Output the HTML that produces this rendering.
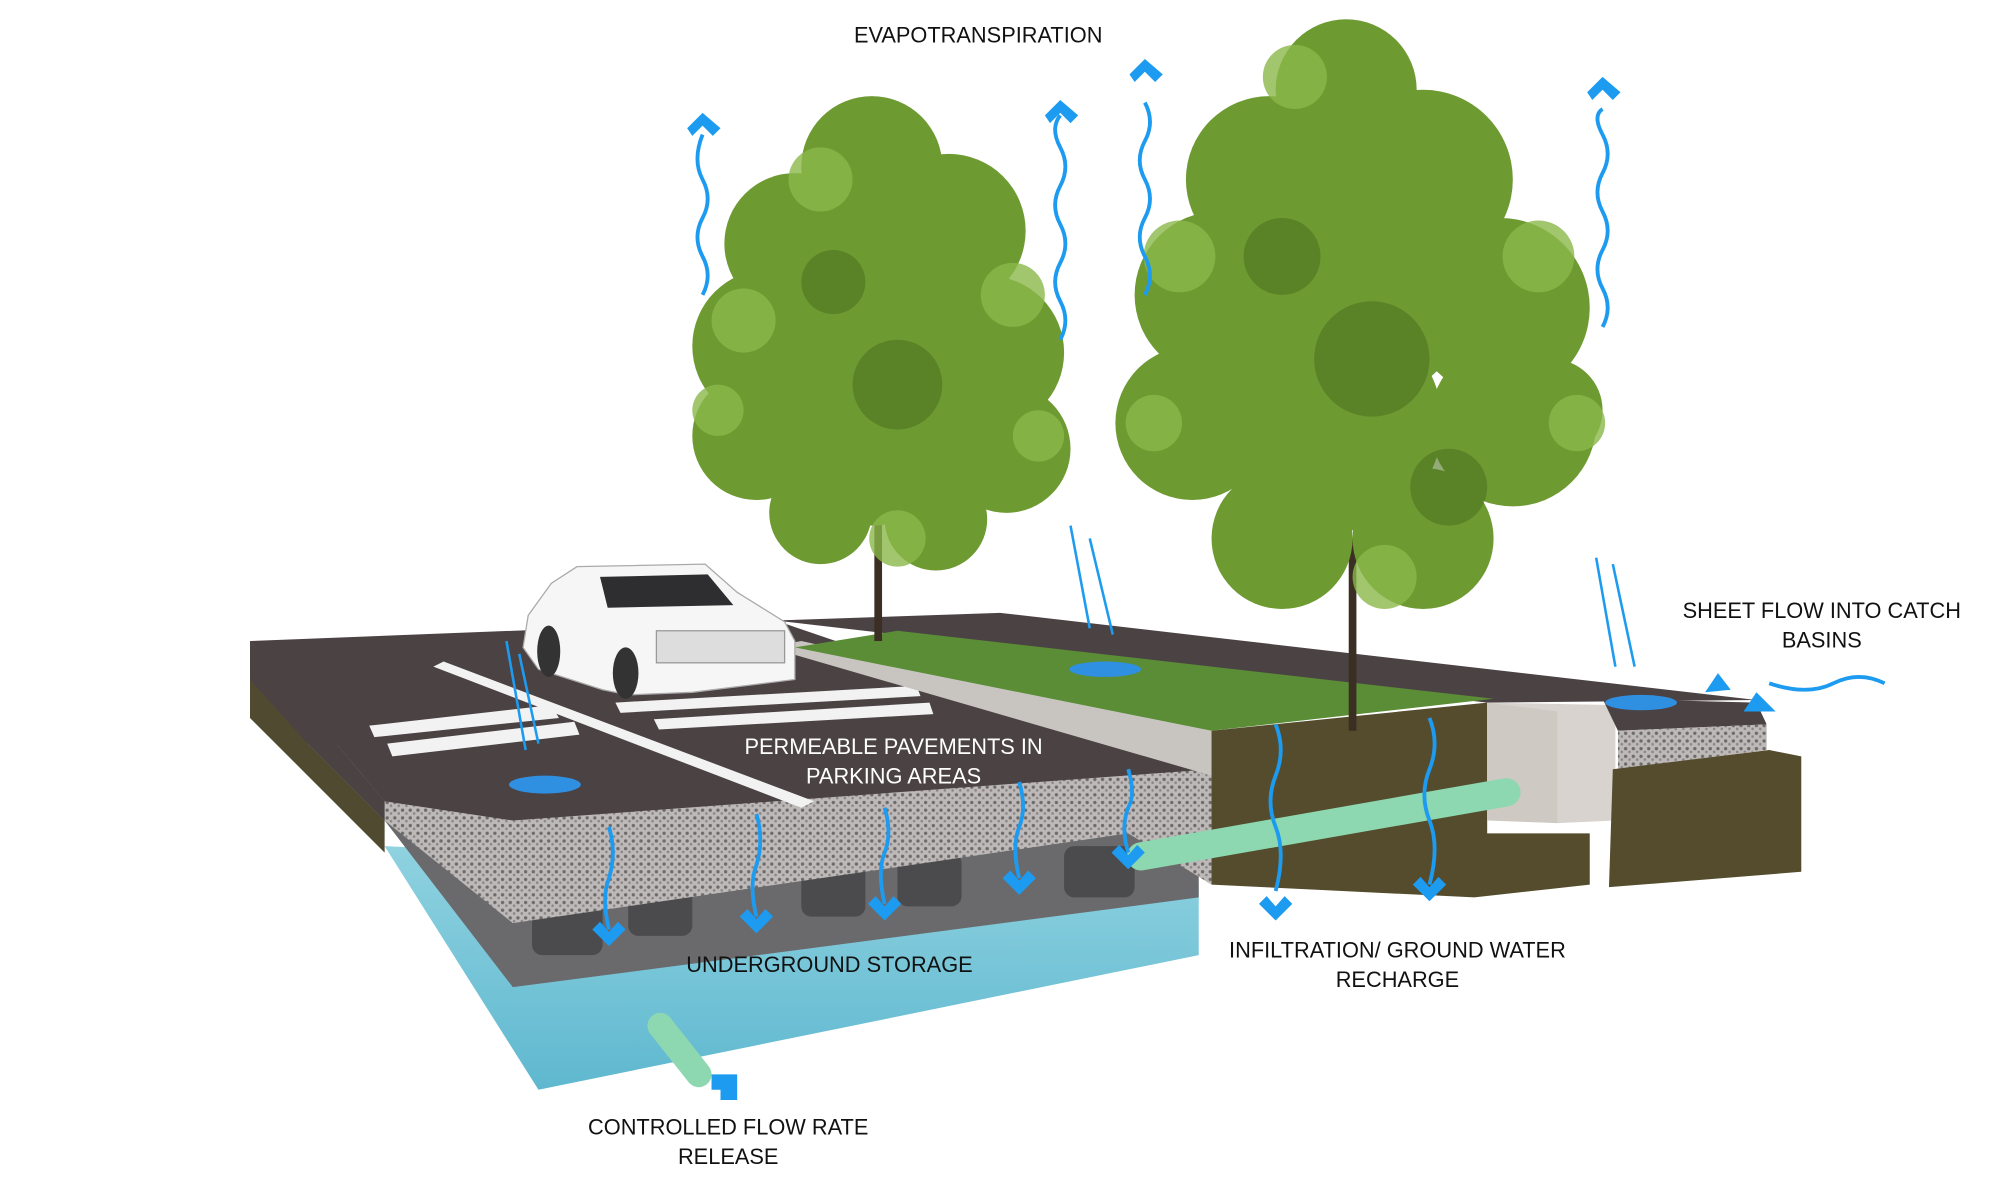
<!DOCTYPE html>
<html><head><meta charset="utf-8"><style>
html,body{margin:0;padding:0;background:#fff;width:2000px;height:1200px;overflow:hidden}
svg{display:block}
text{font-family:"Liberation Sans",sans-serif;font-size:17px}
</style></head><body>
<svg width="2000" height="1200" viewBox="0 0 1560 936" preserveAspectRatio="none" xmlns="http://www.w3.org/2000/svg">
<defs>
<pattern id="grav" width="6" height="6" patternUnits="userSpaceOnUse"><rect width="6" height="6" fill="#bdb9b8"/><circle cx="2" cy="2" r="1.3" fill="#6f6a6a"/><circle cx="5" cy="4.5" r="1" fill="#8c8484"/></pattern>
<linearGradient id="wat" x1="0" y1="0" x2="0" y2="1"><stop offset="0" stop-color="#8fd2e0"/><stop offset="1" stop-color="#5fb8cf"/></linearGradient>
</defs>
<polygon points="195,500 300,620 300,665 195,560" fill="#4f4a30"/>
<polygon points="300,660 420,850 935,745 935,690" fill="url(#wat)"/>
<polygon points="300,640 400,770 935,700 935,660 880,650 300,640" fill="#6a6a6c"/>
<g fill="#4b4b4d">
<rect x="415" y="695" width="55" height="50" rx="8"/><rect x="490" y="685" width="50" height="45" rx="8"/><rect x="625" y="670" width="50" height="45" rx="8"/><rect x="700" y="665" width="50" height="42" rx="8"/><rect x="830" y="660" width="55" height="40" rx="8"/>
</g>
<polygon points="240,580 945,600 945,690 880,650 400,720 300,640" fill="url(#grav)"/>
<polygon points="195,500 605,484 945,600 400,640 300,625" fill="#4b4244"/>
<polygon points="195,500 300,625 300,640 240,580 195,530" fill="#4b4244"/>
<g fill="#f2f2f2">
<polygon points="288,566 430,550 436,560 292,575"/><polygon points="302,580 448,563 452,573 306,590"/>
<polygon points="480,548 715,535 718,543 484,556"/><polygon points="510,561 725,548 728,557 514,569"/>
<polygon points="338,520 346,516 635,625 625,630"/>
</g>
<polygon points="605,484 780,478 1370,546 1160,548" fill="#4b4244"/>
<polygon points="600,505 625,500 945,570 945,605" fill="#c8c4c0"/>
<polygon points="620,505 700,492 1165,545 945,570" fill="#5a8d36"/>
<polygon points="945,570 1160,548 1160,650 1240,650 1240,690 1150,700 945,690" fill="#544c2d"/>
<polygon points="1160,548 1260,550 1260,640 1215,642 1215,555 1160,555" fill="#d8d3ce"/>
<polygon points="1160,548 1215,555 1215,642 1160,640" fill="#cfc9c3"/>
<polygon points="1250,545 1370,548 1378,565 1262,570" fill="#4b4244"/>
<polygon points="1262,570 1378,565 1378,585 1262,600" fill="url(#grav)"/>
<polygon points="1258,600 1380,585 1405,590 1405,680 1255,692" fill="#544c2d"/>
<line x1="890" y1="668" x2="1175" y2="618" stroke="#8dd8b0" stroke-width="22" stroke-linecap="round"/>
<line x1="515" y1="800" x2="545" y2="838" stroke="#8dd8b0" stroke-width="20" stroke-linecap="round"/>
<!-- trees -->
<rect x="682" y="400" width="6" height="100" fill="#3b2e22"/>
<rect x="1052" y="420" width="6" height="150" fill="#3b2e22"/>
<g fill="#6e9a32">
<circle cx="680" cy="130" r="55"/><circle cx="620" cy="190" r="55"/><circle cx="740" cy="180" r="60"/>
<circle cx="600" cy="270" r="60"/><circle cx="685" cy="250" r="75"/><circle cx="770" cy="275" r="60"/>
<circle cx="590" cy="340" r="50"/><circle cx="680" cy="340" r="70"/><circle cx="785" cy="350" r="50"/>
<circle cx="640" cy="400" r="40"/><circle cx="730" cy="405" r="40"/>
<circle cx="1050" cy="70" r="55"/><circle cx="990" cy="140" r="65"/><circle cx="1110" cy="140" r="70"/>
<circle cx="950" cy="230" r="65"/><circle cx="1060" cy="230" r="85"/><circle cx="1170" cy="240" r="70"/>
<circle cx="930" cy="330" r="60"/><circle cx="1040" cy="330" r="85"/><circle cx="1180" cy="330" r="65"/>
<circle cx="1000" cy="420" r="55"/><circle cx="1110" cy="420" r="55"/><circle cx="1210" cy="320" r="40"/>
</g>
<g fill="#8bb84a" opacity="0.8">
<circle cx="640" cy="140" r="25"/><circle cx="580" cy="250" r="25"/><circle cx="790" cy="230" r="25"/><circle cx="560" cy="320" r="20"/><circle cx="810" cy="340" r="20"/><circle cx="700" cy="420" r="22"/>
<circle cx="1010" cy="60" r="25"/><circle cx="920" cy="200" r="28"/><circle cx="1200" cy="200" r="28"/><circle cx="900" cy="330" r="22"/><circle cx="1230" cy="330" r="22"/><circle cx="1080" cy="450" r="25"/>
</g>
<g fill="#4d7420" opacity="0.6">
<circle cx="700" cy="300" r="35"/><circle cx="650" cy="220" r="25"/><circle cx="1070" cy="280" r="45"/><circle cx="1000" cy="200" r="30"/><circle cx="1130" cy="380" r="30"/>
</g>
<!-- car -->
<path d="M408,505 L412,480 L430,455 L450,442 L550,440 L575,462 L612,485 L620,500 L620,530 L540,540 L490,542 L470,538 L420,522 Z" fill="#f6f6f6" stroke="#aaa"/>
<polygon points="468,450 552,448 572,472 474,474" fill="#2e2e30"/>
<rect x="512" y="492" width="100" height="25" fill="#ddd" stroke="#999"/>
<ellipse cx="428" cy="508" rx="9" ry="20" fill="#333"/><ellipse cx="488" cy="525" rx="10" ry="20" fill="#333"/>
<g fill="none" stroke="#1d9bf0" stroke-width="3">
<path d="M548,230 q8,-15 0,-30 q-8,-15 0,-30 q8,-15 0,-30 q-8,-15 0,-35"/>
<path d="M827,265 q8,-15 0,-30 q-8,-15 0,-30 q8,-15 0,-30 q-8,-15 0,-30 q8,-15 0,-30 q-8,-15 0,-25"/>
<path d="M893,230 q8,-15 0,-30 q-8,-15 0,-30 q8,-15 0,-30 q-8,-15 0,-30 q8,-15 0,-30"/>
<path d="M1250,255 q8,-15 0,-30 q-8,-15 0,-30 q8,-15 0,-30 q-8,-15 0,-30 q8,-15 0,-30 q-8,-15 0,-20"/>
<path d="M475,645 q6,20 0,40 q-6,15 0,40"/><path d="M590,635 q6,20 0,40 q-6,15 0,40"/><path d="M690,630 q6,20 0,35 q-6,15 0,40"/><path d="M795,610 q6,20 0,35 q-6,15 0,40"/><path d="M880,600 q6,20 0,30 q-6,15 0,35"/>
<path d="M995,565 q8,20 0,40 q-8,20 0,40 q8,20 0,50"/><path d="M1115,560 q8,20 0,40 q-8,20 0,40 q8,20 0,50"/>
<path d="M1470,533 q-20,-10 -40,0 q-20,10 -50,0"/>
</g>
<g fill="#1d9bf0">
<polygon points="536,100 548,88 562,100 556,106 548,98 540,106"/>
<polygon points="815,90 827,78 841,90 835,96 827,88 819,96"/>
<polygon points="881,58 893,46 907,58 901,64 893,56 885,64"/>
<polygon points="1238,72 1250,60 1264,72 1258,78 1250,70 1242,78"/>
<polygon points="462,725 475,738 488,725 482,719 475,727 468,719"/>
<polygon points="577,715 590,728 603,715 597,709 590,717 583,709"/>
<polygon points="677,705 690,718 703,705 697,699 690,707 683,699"/>
<polygon points="782,685 795,698 808,685 802,679 795,687 788,679"/>
<polygon points="867,665 880,678 893,665 887,659 880,667 873,659"/>
<polygon points="982,705 995,718 1008,705 1002,699 995,707 988,699"/>
<polygon points="1102,690 1115,703 1128,690 1122,684 1115,692 1108,684"/>
<polygon points="555,838 575,838 575,858 562,858 562,850 555,850"/>
<polygon points="1340,525 1350,538 1330,540"/><polygon points="1370,540 1385,555 1360,555"/>
</g>
<g fill="#2f8fe0">
<ellipse cx="425" cy="612" rx="28" ry="7"/><ellipse cx="862" cy="522" rx="28" ry="6"/><ellipse cx="1280" cy="548" rx="28" ry="6"/>
</g>
<g stroke="#1d9bf0" stroke-width="2"><line x1="395" y1="500" x2="410" y2="585"/><line x1="405" y1="510" x2="420" y2="580"/><line x1="835" y1="410" x2="850" y2="490"/><line x1="850" y1="420" x2="868" y2="495"/><line x1="1245" y1="435" x2="1260" y2="520"/><line x1="1258" y1="440" x2="1275" y2="520"/></g>
<text x="763" y="33" text-anchor="middle" fill="#111">EVAPOTRANSPIRATION</text>
<text x="697" y="588" text-anchor="middle" fill="#fff">PERMEABLE PAVEMENTS IN</text>
<text x="697" y="611" text-anchor="middle" fill="#fff">PARKING AREAS</text>
<text x="647" y="758" text-anchor="middle" fill="#111">UNDERGROUND STORAGE</text>
<text x="1090" y="747" text-anchor="middle" fill="#111">INFILTRATION/ GROUND WATER</text>
<text x="1090" y="770" text-anchor="middle" fill="#111">RECHARGE</text>
<text x="568" y="885" text-anchor="middle" fill="#111">CONTROLLED FLOW RATE</text>
<text x="568" y="908" text-anchor="middle" fill="#111">RELEASE</text>
<text x="1421" y="482" text-anchor="middle" fill="#111">SHEET FLOW INTO CATCH</text>
<text x="1421" y="505" text-anchor="middle" fill="#111">BASINS</text>
</svg>
</body></html>
